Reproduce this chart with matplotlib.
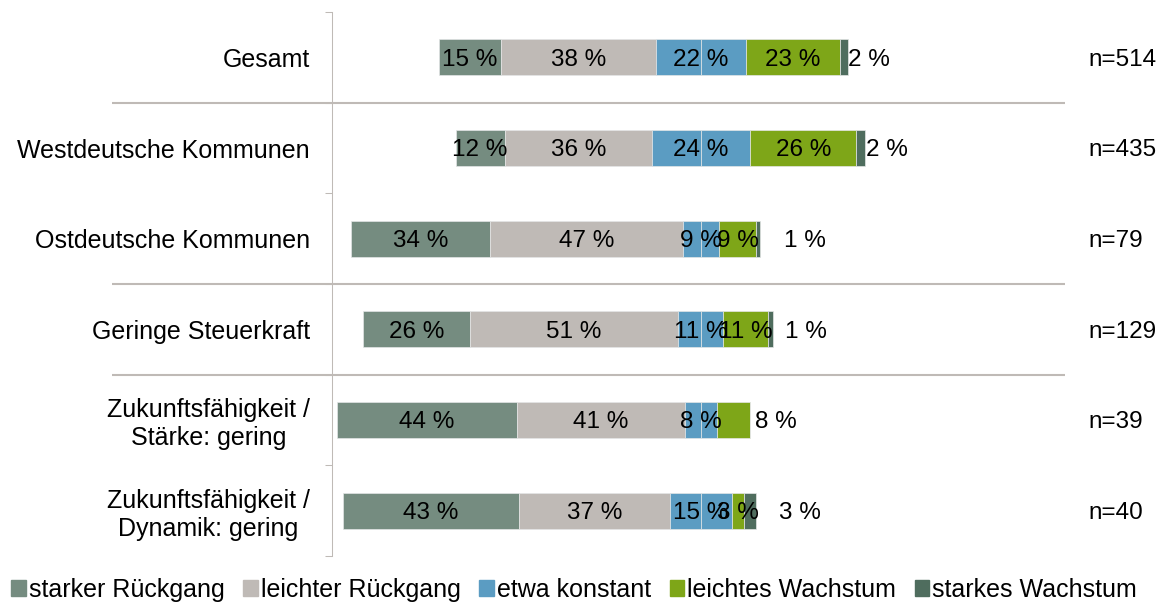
import matplotlib.pyplot as plt
import matplotlib.patches as mpatches
import numpy as np

plt.rcParams['font.family'] = ['Liberation Sans', 'DejaVu Sans']

categories = ['Gesamt', 'Westdeutsche Kommunen', 'Ostdeutsche Kommunen',
              'Geringe Steuerkraft', 'Zukunftsfähigkeit /\nStärke: gering',
              'Zukunftsfähigkeit /\nDynamik: gering']
n_labels = ['n=514', 'n=435', 'n=79', 'n=129', 'n=39', 'n=40']
starker_rueckgang = [15, 12, 34, 26, 44, 43]
leichter_rueckgang = [38, 36, 47, 51, 41, 37]
etwa_konstant = [22, 24, 9, 11, 8, 15]
leichtes_wachstum = [23, 26, 9, 11, 8, 3]
starkes_wachstum = [2, 2, 1, 1, 0, 3]
series_names = ['starker Rückgang', 'leichter Rückgang', 'etwa konstant',
                'leichtes Wachstum', 'starkes Wachstum']

colors = ['#758c80', '#bfbab6', '#5b9cc2', '#7ea618', '#4f6d5e']
sep_color = '#bfbab6'
# gap between bar end and outer label (in % units)
outer_gap = [0, 0.3, 5.9, 3.0, 1.2, 5.6]

sr = np.array(starker_rueckgang, dtype=float)
lr = np.array(leichter_rueckgang, dtype=float)
ek = np.array(etwa_konstant, dtype=float)
lw_ = np.array(leichtes_wachstum, dtype=float)
sw = np.array(starkes_wachstum, dtype=float)
y = np.arange(len(categories))

fig = plt.figure(figsize=(11.66, 6.13), dpi=100)
ax = fig.add_axes([332 / 1166, 57 / 613, 1 - 332 / 1166, 544 / 613])

h = 0.4
ec = dict(edgecolor='#e4e6e6', linewidth=0.5)
left = -(sr + lr + ek / 2)
ax.barh(y, sr, left=left, height=h, color=colors[0], **ec)
ax.barh(y, lr, left=left + sr, height=h, color=colors[1], **ec)
# neutral category split in the middle
ax.barh(y, ek / 2, left=-ek / 2, height=h, color=colors[2], **ec)
ax.barh(y, ek / 2, left=0, height=h, color=colors[2], **ec)
ax.barh(y, lw_, left=ek / 2, height=h, color=colors[3], **ec)
ax.barh(y, sw, left=ek / 2 + lw_, height=h, color=colors[4], **ec)

fs = 17.5
va = 'center_baseline'
for i in range(len(y)):
    ax.text(left[i] + sr[i] / 2, i, f'{int(sr[i])} %', ha='center', va=va, fontsize=fs)
    ax.text(left[i] + sr[i] + lr[i] / 2, i, f'{int(lr[i])} %', ha='center', va=va, fontsize=fs)
    ax.text(0, i, f'{int(ek[i])} %', ha='center', va=va, fontsize=fs)
    end = ek[i] / 2 + lw_[i] + sw[i]
    if sw[i] > 0:
        ax.text(ek[i] / 2 + lw_[i] / 2, i, f'{int(lw_[i])} %', ha='center', va=va, fontsize=fs)
        ax.text(end + outer_gap[i], i, f'{int(sw[i])} %', ha='left', va=va, fontsize=fs)
    else:
        ax.text(end + outer_gap[i], i, f'{int(lw_[i])} %', ha='left', va=va, fontsize=fs)
    ax.text(94.8, i, n_labels[i], ha='left', va=va, fontsize=fs)

ax.set_xlim(-90.2, 113.7)
ax.set_ylim(len(y) - 0.5, -0.5)
ax.set_xticks([])
ax.set_yticks(y)
ax.set_yticklabels(categories, fontsize=18)
for t in ax.get_yticklabels():
    t.set_multialignment('center')
ax.tick_params(axis='y', which='major', length=0, pad=16)
ax.set_yticks(np.arange(len(y) + 1) - 0.5, minor=True)
ax.tick_params(axis='y', which='minor', length=5, width=0.75, color=sep_color)

for s in ['top', 'right', 'bottom']:
    ax.spines[s].set_visible(False)
ax.spines['left'].set_color(sep_color)
ax.spines['left'].set_linewidth(0.75)

ax.hlines([0.5, 2.5, 3.5], -144, 89, colors=sep_color, linewidth=1.5, clip_on=False)

handles = [mpatches.Patch(color=c) for c in colors]
fig.legend(handles, series_names, loc='lower left', bbox_to_anchor=(0.0, 0.0),
           ncol=5, frameon=False, fontsize=18, handlelength=0.58, handleheight=0.58,
           handletextpad=0.12, columnspacing=0.75, borderaxespad=0.05)

plt.savefig('out.png', dpi=100)
